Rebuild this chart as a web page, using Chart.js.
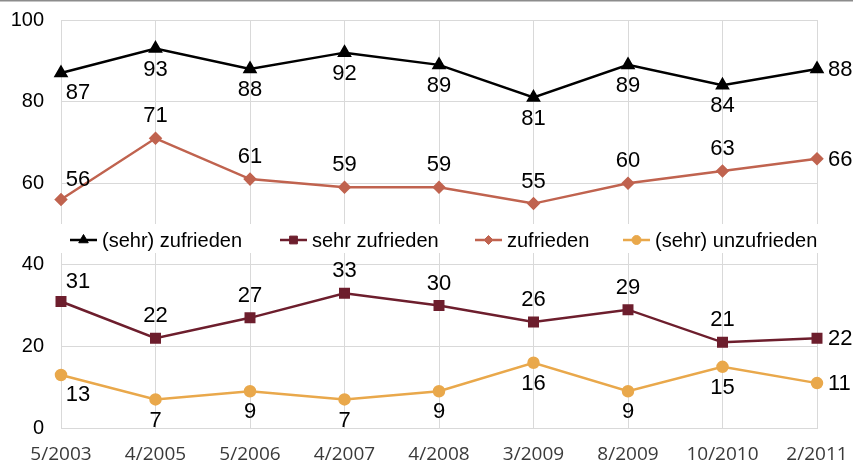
<!DOCTYPE html>
<html>
<head>
<meta charset="utf-8">
<script src="https://cdn.jsdelivr.net/npm/chart.js@4"></script>
<style>
  body { margin: 0; background: #fff; }
  #box { width: 853px; height: 465px; position: relative; }
</style>
</head>
<body>
<div id="box"><canvas id="myChart"></canvas></div>
<script>
//dados

const datas = ['5/2003', '4/2005', '5/2006', '4/2007', '4/2008', '3/2009', '8/2009', '10/2010', '2/2011']
const sehr_zufrieden_gesamt = [87, 93, 88, 92, 89, 81, 89, 84, 88]
const sehr_zufrieden = [31, 22, 27, 33, 30, 26, 29, 21, 22]
const zufrieden = [56, 71, 61, 59, 59, 55, 60, 63, 66]
const unzufrieden = [13, 7, 9, 7, 9, 16, 9, 15, 11]
const nomes = ['(sehr) zufrieden', 'sehr zufrieden', 'zufrieden', '(sehr) unzufrieden']
const y_ticks = [0, 20, 40, 60, 80, 100]

// onde fica cada rótulo
const pos_preto = ['belowRight', 'below', 'below', 'below', 'below', 'below', 'below', 'below', 'right']
const pos_sehr = ['aboveRight', 'above', 'above', 'above', 'above', 'above', 'above', 'above', 'right']
const pos_zuf = ['aboveRight', 'above', 'above', 'above', 'above', 'above', 'above', 'above', 'right']
const pos_unz = ['belowRight', 'below', 'below', 'below', 'below', 'below', 'below', 'below', 'right']

/*========================================================*/

const ctx = document.getElementById('myChart')

function serie(nome, valores, cor, ponto, raio, pos){
    return {
        label: nome,
        data: valores,
        borderColor: cor,
        backgroundColor: cor,
        borderWidth: 2.5,
        pointStyle: ponto,
        pointRadius: raio,
        pointHoverRadius: raio,
        tension: 0,
        posicoes: pos
    }
}

const rotulos = {
    id: 'rotulos',
    afterDatasetsDraw(chart){
        let c = chart.ctx
        c.save()
        c.font = '22px "Liberation Sans", Arial, sans-serif'
        c.fillStyle = '#000'
        chart.data.datasets.forEach((ds, i) => {
            let meta = chart.getDatasetMeta(i)
            meta.data.forEach((p, j) => {
                let pos = ds.posicoes[j]
                let x = p.x, y = p.y
                c.textAlign = 'center'
                c.textBaseline = 'middle'
                if(pos == 'below'){ y += 20 }
                else if(pos == 'above'){ y -= 23 }
                else if(pos == 'belowRight'){ x += 17; y += 19 }
                else if(pos == 'aboveRight'){ x += 17; y -= 21 }
                else if(pos == 'right'){ x += 11; c.textAlign = 'left' }
                c.fillText(String(ds.data[j]), x, y + 1)
            })
        })
        c.restore()
    }
}

const legenda = {
    id: 'legenda',
    beforeDatasetsDraw(chart){
        let c = chart.ctx
        let area = chart.chartArea
        c.save()
        c.fillStyle = '#fff'
        c.fillRect(area.left - 2, 224, area.right - area.left + 30, 29)
        let inicio = [70, 280, 475, 623]
        let meio_y = 240
        c.font = '20px "Liberation Sans", Arial, sans-serif'
        c.textBaseline = 'middle'
        c.textAlign = 'left'
        chart.data.datasets.forEach((ds, i) => {
            let x0 = inicio[i]
            c.strokeStyle = ds.borderColor
            c.fillStyle = ds.borderColor
            c.lineWidth = 2.5
            c.beginPath()
            c.moveTo(x0, meio_y)
            c.lineTo(x0 + 27, meio_y)
            c.stroke()
            c.lineWidth = 1
            Chart.helpers.drawPoint(c, {
                pointStyle: ds.pointStyle,
                radius: ds.pointRadius - 0.5,
                borderWidth: 1
            }, x0 + 13.5, meio_y)
            c.fillStyle = '#000'
            c.fillText(ds.label, x0 + 32, meio_y + 1)
        })
        c.restore()
    },
    afterDraw(chart){
        let c = chart.ctx
        c.save()
        c.fillStyle = '#8c8c8c'
        c.fillRect(0, 0, chart.width, 1.5)
        c.restore()
    }
}

/*========================================================*/

//saida

var grafico = new Chart(ctx, {
    type: 'line',
    data: {
        labels: datas,
        datasets: [
            serie(nomes[0], sehr_zufrieden_gesamt, '#000000', 'triangle', 6, pos_preto),
            serie(nomes[1], sehr_zufrieden, '#6d1e2d', 'rect', 6, pos_sehr),
            serie(nomes[2], zufrieden, '#c0634f', 'rectRot', 5, pos_zuf),
            serie(nomes[3], unzufrieden, '#e9a84b', 'circle', 5, pos_unz)
        ]
    },
    options: {
        responsive: true,
        maintainAspectRatio: false,
        animation: false,
        layout: { padding: { top: 20, right: 36, left: 0, bottom: 0 } },
        plugins: {
            legend: { display: false },
            tooltip: { enabled: false }
        },
        scales: {
            x: {
                offset: false,
                grid: { color: '#d9d9d9', lineWidth: 1, drawTicks: false },
                border: { color: '#d9d9d9' },
                ticks: {
                    color: '#3a3a3a',
                    font: { family: '"Open Sans", sans-serif', size: 19 },
                    padding: 15,
                    maxRotation: 0,
                    autoSkip: false
                },
                afterFit(scale){
                    scale.height = 37
                    scale.paddingLeft = 0
                    scale.paddingRight = 0
                }
            },
            y: {
                min: 0,
                max: 100,
                grid: { color: '#d9d9d9', lineWidth: 1, drawTicks: false },
                border: { color: '#d9d9d9' },
                afterBuildTicks(scale){ scale.ticks = y_ticks.map(v => ({ value: v })) },
                ticks: {
                    color: '#000',
                    font: { family: '"Liberation Sans", Arial, sans-serif', size: 20 },
                    padding: 17
                },
                afterFit(scale){
                    scale.width = 61
                    scale.paddingTop = 0
                    scale.paddingBottom = 0
                }
            }
        }
    },
    plugins: [legenda, rotulos]
});
</script>
</body>
</html>
